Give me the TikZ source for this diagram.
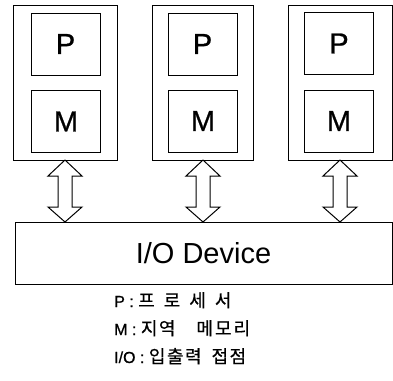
\documentclass[tikz,border=0pt]{standalone}
\usepackage{fontspec}
\setmainfont{Liberation Sans}
\newfontfamily\heavy[FakeBold=0.8]{Liberation Sans}
\newfontfamily\kr[FakeBold=0.6]{Noto Sans CJK KR}
\usetikzlibrary{calc}
\begin{document}
\begin{tikzpicture}[x=1pt,y=-1pt,
  box/.style={draw, line width=1pt, inner sep=0pt, outer sep=0pt},
  pe/.style={box, minimum height=155pt},
  unit/.style={box, minimum width=69pt, minimum height=62pt, font=\heavy\fontsize{29}{29}\selectfont},
  fat/.style={draw, line width=1pt, fill=white, line join=miter},
  legend/.style={anchor=base west, inner sep=0pt, font=\heavy\fontsize{16}{16}\selectfont}]
\useasboundingbox (0,0) rectangle (393,380);
% processing elements
\node[pe, minimum width=104pt] (o1) at (65,82.5) {};
\node[pe, minimum width=101pt] (o2) at (203,82.5) {};
\node[pe, minimum width=104pt] (o3) at (340,82.5) {};
\node[unit] (p1) at (65.5,44) {P};
\node[unit] (m1) at (66,121.5) {M};
\node[unit] (p2) at (202.5,44) {P};
\node[unit] (m2) at (203,121) {M};
\node[unit] (p3) at (339,43.5) {P};
\node[unit] (m3) at (339,121) {M};
% I/O device
\node[box, minimum width=377pt, minimum height=62pt, font=\fontsize{29}{29}\selectfont] (io) at (203.5,253) {I/O Device};
% double arrows
\foreach \i in {1,2,3}{
  \path (o\i.south) coordinate (t) (t |- io.north) coordinate (b);
  \draw[fat] (t) -- ++(17,16) -- ++(-10,0) -- ($(b)+(7,-15)$) -- ++(10,0) -- (b)
    -- ++(-17,-15) -- ++(10,0) -- ($(t)+(-7,16)$) -- ++(-10,0) -- cycle;
}
% legend
\node[legend] (l1) at (114,307) {P : {\kr\fontsize{18}{18}\selectfont 프\kern9pt 로\kern9pt 세\kern9pt 서}};
\node[legend] (l2) at (114,335) {M : {\kr\fontsize{18}{18}\selectfont 지\kern1.5pt 역\kern21pt 메\kern2pt 모\kern2pt 리}};
\node[legend] (l3) at (114,363) {I/O : {\kr\fontsize{18}{18}\selectfont 입\kern1.5pt 출\kern1.5pt 력\kern10pt 접\kern1.5pt 점}};
\end{tikzpicture}
\end{document}
